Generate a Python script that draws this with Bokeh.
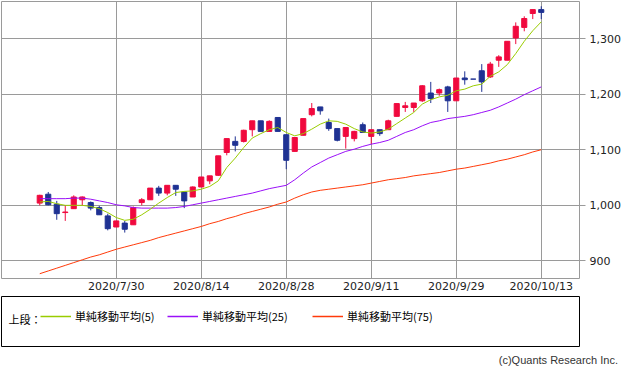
from bokeh.plotting import figure
from bokeh.models import (FixedTicker, NumeralTickFormatter, Range1d, Legend, LegendItem,
                          Label, Div, ColumnDataSource)
from bokeh.layouts import column
from bokeh.embed import file_html
from bokeh.resources import INLINE

# ---------------- data ----------------
dates = ["2020/7/15", "2020/7/16", "2020/7/17", "2020/7/20", "2020/7/21", "2020/7/22",
         "2020/7/27", "2020/7/28", "2020/7/29", "2020/7/30", "2020/7/31", "2020/8/3",
         "2020/8/4", "2020/8/5", "2020/8/6", "2020/8/7", "2020/8/11", "2020/8/12",
         "2020/8/13", "2020/8/14", "2020/8/17", "2020/8/18", "2020/8/19", "2020/8/20",
         "2020/8/21", "2020/8/24", "2020/8/25", "2020/8/26", "2020/8/27", "2020/8/28",
         "2020/8/31", "2020/9/1", "2020/9/2", "2020/9/3", "2020/9/4", "2020/9/7",
         "2020/9/8", "2020/9/9", "2020/9/10", "2020/9/11", "2020/9/14", "2020/9/15",
         "2020/9/16", "2020/9/17", "2020/9/18", "2020/9/23", "2020/9/24", "2020/9/25",
         "2020/9/28", "2020/9/29", "2020/9/30", "2020/10/1", "2020/10/2", "2020/10/5",
         "2020/10/6", "2020/10/7", "2020/10/8", "2020/10/9", "2020/10/12", "2020/10/13"]

tick_labels = ["2020/7/30", "2020/8/14", "2020/8/28", "2020/9/11", "2020/9/29", "2020/10/13"]

open_ = [1004, 1020, 1002, 987, 994, 1010, 1005, 996, 981, 961,
         968, 965, 1005, 1010, 1031, 1022, 1036, 1024, 1015, 1033,
         1044, 1054, 1095, 1115, 1115, 1136, 1152, 1133, 1158, 1127,
         1097, 1126, 1163, 1177, 1149, 1138, 1124, 1120, 1145, 1124,
         1136, 1136, 1160, 1176, 1176, 1188, 1202, 1202, 1213, 1188,
         1229, 1227, 1242, 1231, 1261, 1261, 1301, 1320, 1345, 1352]
high = [1019, 1024, 1008, 1000, 1018, 1016, 1007, 999, 985, 972,
        972, 998, 1013, 1031, 1035, 1036, 1036, 1024, 1034, 1051,
        1053, 1089, 1120, 1124, 1136, 1152, 1152, 1153, 1158, 1127,
        1122, 1156, 1184, 1177, 1156, 1138, 1140, 1134, 1149, 1136,
        1136, 1154, 1183, 1186, 1184, 1216, 1222, 1210, 1215, 1229,
        1241, 1227, 1254, 1258, 1270, 1295, 1329, 1340, 1352, 1358]
low = [1000, 1000, 974, 972, 994, 1000, 991, 983, 955, 961,
       951, 965, 1000, 1010, 1017, 1018, 1017, 995, 1015, 1033,
       1038, 1053, 1090, 1097, 1113, 1124, 1133, 1133, 1133, 1065,
       1097, 1126, 1160, 1163, 1134, 1115, 1102, 1115, 1131, 1110,
       1125, 1136, 1160, 1168, 1168, 1186, 1184, 1197, 1168, 1188,
       1217, 1227, 1204, 1229, 1249, 1261, 1290, 1313, 1335, 1335]
close = [1018, 1001, 985, 988, 1015, 1015, 995, 983, 958, 972,
         957, 996, 1010, 1031, 1022, 1036, 1029, 1008, 1033, 1051,
         1053, 1089, 1120, 1108, 1135, 1152, 1133, 1151, 1133, 1081,
         1122, 1156, 1174, 1170, 1138, 1117, 1140, 1133, 1131, 1136,
         1129, 1152, 1183, 1179, 1184, 1215, 1192, 1208, 1188, 1229,
         1226, 1227, 1222, 1254, 1267, 1295, 1322, 1336, 1352, 1347]

sma5 = [1006, 1007, 1003, 1000, 1000, 1000, 998, 994, 987, 978,
        973, 975, 983, 993, 1004, 1014, 1023, 1025, 1026, 1029,
        1034, 1044, 1068, 1085, 1104, 1121, 1129, 1136, 1140, 1131,
        1125, 1129, 1137, 1146, 1152, 1151, 1146, 1138, 1132, 1130,
        1132, 1137, 1147, 1157, 1167, 1182, 1190, 1195, 1198, 1206,
        1209, 1215, 1218, 1232, 1240, 1253, 1273, 1295, 1314, 1330]
sma25 = [1012, 1012, 1012, 1012, 1013, 1013, 1011, 1008, 1005, 1001,
         999, 996, 995, 995, 995, 995, 996, 998, 1001, 1004,
         1007, 1010, 1013, 1016, 1019, 1022, 1026, 1030, 1033, 1036,
         1046, 1058, 1069, 1077, 1085, 1091, 1097, 1101, 1106, 1110,
         1113, 1117, 1124, 1131, 1136, 1143, 1149, 1152, 1156, 1158,
         1160, 1163, 1167, 1171, 1177, 1184, 1191, 1199, 1206, 1213]
sma75 = [877, 882, 887, 892, 897, 902, 907, 911, 916, 921,
         925, 929, 933, 937, 942, 946, 950, 954, 958, 962,
         967, 971, 976, 980, 985, 989, 993, 997, 1002, 1006,
         1013, 1019, 1024, 1027, 1029, 1031, 1033, 1035, 1037, 1040,
         1043, 1046, 1048, 1050, 1053, 1055, 1057, 1059, 1062, 1065,
         1067, 1070, 1073, 1076, 1080, 1083, 1087, 1091, 1096, 1100]

y_ticks = [900, 1000, 1100, 1200, 1300]
legend_title = "上段："
legend_labels = ["単純移動平均(5)", "単純移動平均(25)", "単純移動平均(75)"]
copyright_text = "(c)Quants Research Inc."

# ---------------- styles ----------------
UP = "#F0093E"
DOWN = "#1F3293"
C5 = "#99CC00"
C25 = "#9A10F8"
C75 = "#FF3A0A"
GRID = "#9A9A9A"
W = 633

idx = list(range(len(dates)))
colors = [UP if c > o else DOWN for o, c in zip(open_, close)]
src = ColumnDataSource(dict(
    x=idx, open=open_, high=high, low=low, close=close,
    top=[max(o, c) for o, c in zip(open_, close)],
    bottom=[min(o, c) for o, c in zip(open_, close)],
    color=colors, sma5=sma5, sma25=sma25, sma75=sma75))

p = figure(width=W, height=295, output_backend="svg", toolbar_location=None,
           x_range=Range1d(-4.5, 63.5), y_range=Range1d(868.4, 1366.6),
           y_axis_location="right", min_border_left=1, min_border_top=1,
           min_border_right=54, min_border_bottom=15)
p.outline_line_color = GRID
p.outline_line_width = 1
p.background_fill_color = "white"
p.border_fill_color = "white"

p.segment(x0="x", y0="low", x1="x", y1="high", color="color", line_width=1, source=src)
p.vbar(x="x", width=0.6, top="top", bottom="bottom", fill_color="color",
       line_color="color", line_width=1, source=src)
p.line("x", "sma75", color=C75, line_width=1, source=src)
p.line("x", "sma25", color=C25, line_width=1, source=src)
p.line("x", "sma5", color=C5, line_width=1, source=src)

tick_idx = [dates.index(t) for t in tick_labels]
p.xaxis.ticker = FixedTicker(ticks=tick_idx)
p.xaxis.major_label_overrides = {i: dates[i] for i in tick_idx}
p.yaxis.ticker = FixedTicker(ticks=y_ticks)
p.yaxis.formatter = NumeralTickFormatter(format="0,0")

for ax in (p.xaxis, p.yaxis):
    ax.axis_line_color = None
    ax.minor_tick_line_color = None
    ax.minor_tick_out = 0
    ax.minor_tick_in = 0
    ax.major_label_text_font = "DejaVu Sans"
    ax.major_label_text_font_size = "11px"
    ax.major_label_text_color = "#222222"
p.xaxis.major_tick_line_color = None
p.xaxis.major_tick_out = 0
p.xaxis.major_tick_in = 0
p.xaxis.major_label_standoff = 1
p.yaxis.major_tick_line_color = GRID
p.yaxis.major_tick_out = 6
p.yaxis.major_tick_in = 0
p.yaxis.major_label_standoff = 4

p.grid.grid_line_color = GRID
p.grid.grid_line_width = 1

# ---------------- legend panel ----------------
lg = figure(width=W, height=52, output_backend="svg", toolbar_location=None,
            x_range=Range1d(0, 1), y_range=Range1d(0, 1),
            x_axis_location=None, y_axis_location=None,
            min_border_left=1, min_border_right=1, min_border_top=1, min_border_bottom=1)
lg.xgrid.visible = False
lg.ygrid.visible = False
lg.outline_line_color = "black"
lg.outline_line_width = 1

series_colors = [C5, C25, C75]
legend_x = [39, 166, 311]
for lab, col, lx in zip(legend_labels, series_colors, legend_x):
    r = lg.line(x=[5, 6], y=[5, 6], color=col, line_width=1.5)
    lg.add_layout(Legend(items=[LegendItem(label=lab, renderers=[r])],
                         orientation="horizontal", location=(lx, 22),
                         glyph_width=31, glyph_height=12, label_standoff=4,
                         padding=0, margin=0, border_line_color=None,
                         background_fill_alpha=0,
                         label_text_font="Noto Sans CJK JP", label_text_font_size="11px",
                         label_text_color="black"), "center")

lg.add_layout(Label(x=7, y=28, x_units="screen", y_units="screen", text=legend_title,
                    text_baseline="middle", text_font="Noto Sans CJK JP",
                    text_font_size="11px", text_color="black"))

credit = Div(text=('<div style="width:613px;text-align:right;font-family:\'Liberation Sans\';'
                   'font-size:11px;color:#333333;line-height:14px;margin:0;padding:0">'
                   + copyright_text + '</div>'),
             width=W, height=25)

layout = column(p, lg, credit, spacing=0)
open("out.html", "w").write(file_html(layout, INLINE))
